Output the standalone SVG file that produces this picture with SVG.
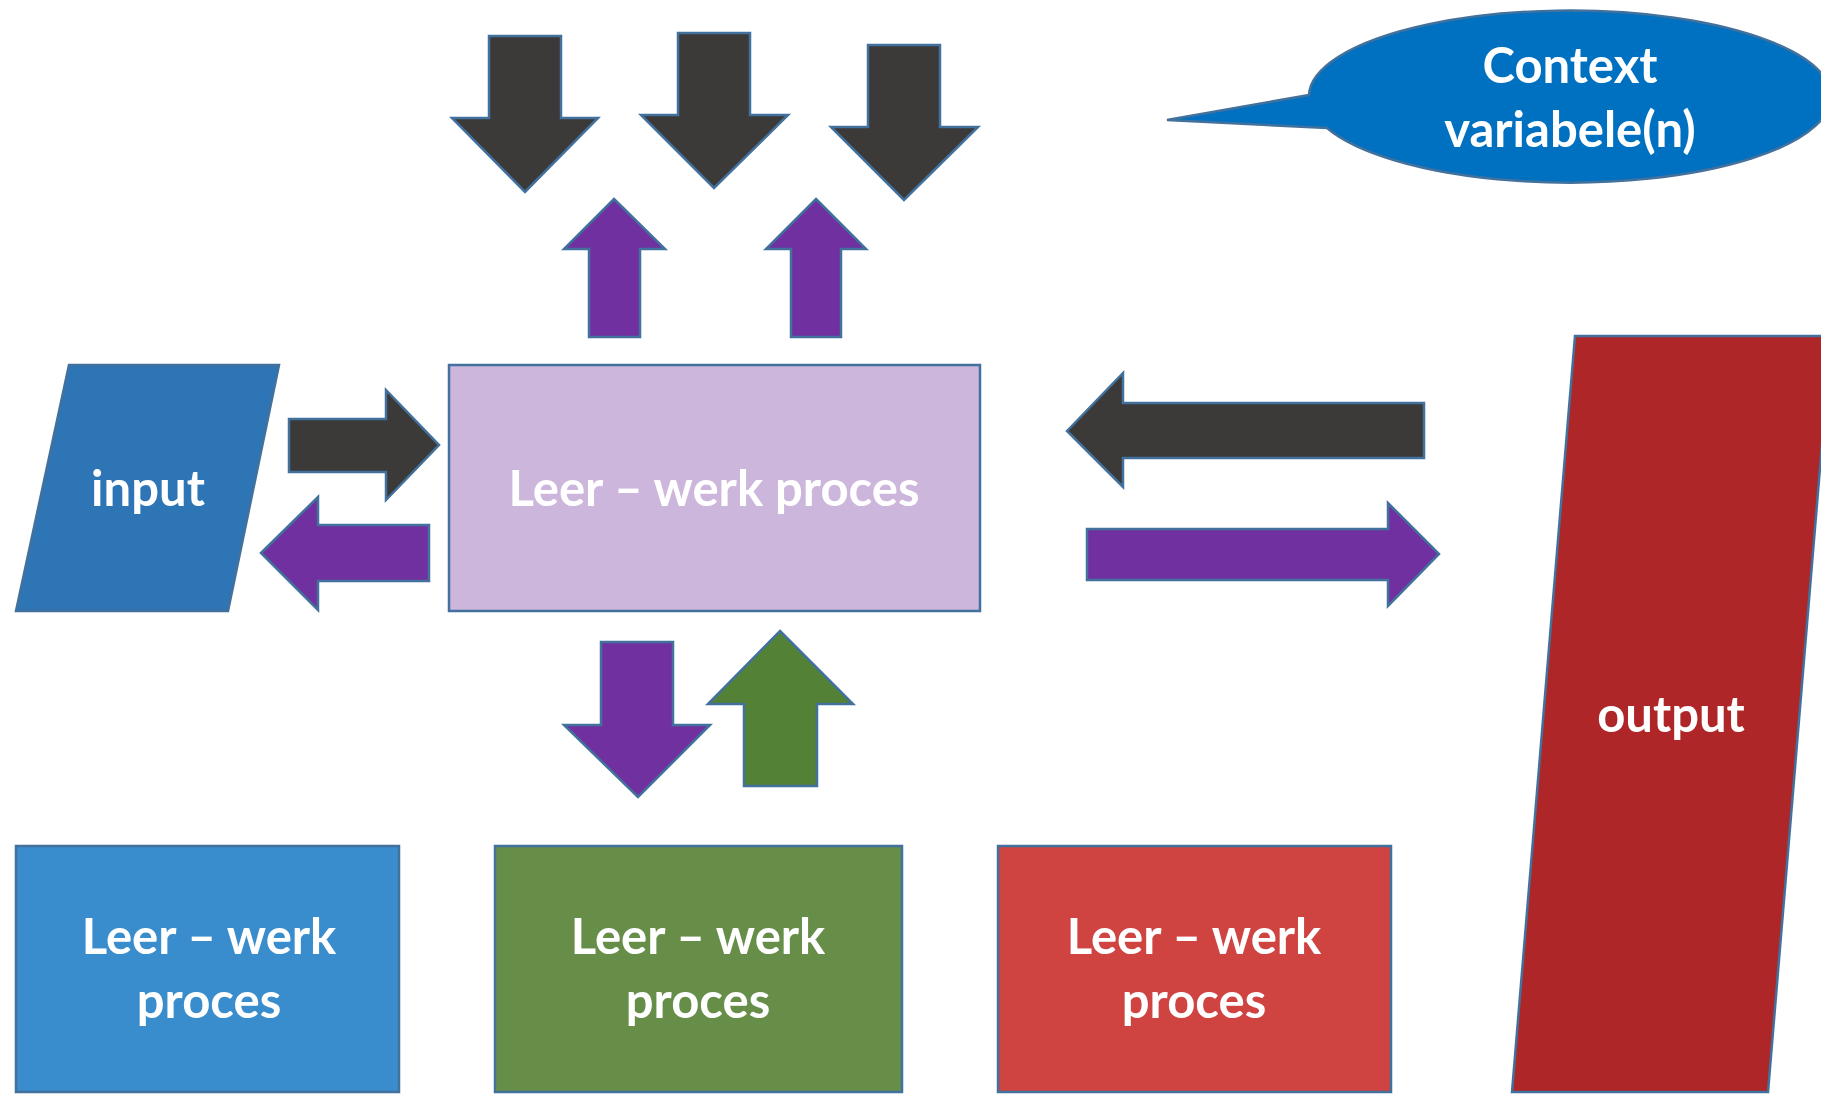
<svg xmlns="http://www.w3.org/2000/svg" width="1821" height="1094" viewBox="0 0 1821 1094">
<style>
.s{stroke:#41719C;stroke-width:2.5;stroke-linejoin:miter}
.dk{fill:#3B3A38}
.pu{fill:#7030A0}
.gr{fill:#538135}
.t{font-family:Lato,"Open Sans","Liberation Sans",sans-serif;font-weight:bold;font-size:49px;fill:#FFFFFF;text-anchor:middle}
</style>
<rect width="1821" height="1094" fill="#FFFFFF"/>
<g id="callout">
<path class="s" fill="#0070C0" d="M1309,95 L1167,120 L1327,128 A261,86 0 1 0 1309,95 Z"/>
<text class="t" x="1570" y="83">Context</text>
<text class="t" x="1570" y="147">variabele(n)</text>
</g>
<g id="input">
<polygon class="s" fill="#2E75B6" stroke="#1F4E79" points="69,365 279,365 228,611 16,611"/>
<text class="t" x="148" y="506">input</text>
</g>
<g id="center">
<rect class="s" fill="#CDB6DC" x="449" y="365" width="531" height="246"/>
<text class="t" x="714" y="506">Leer – werk proces</text>
</g>
<g id="output">
<polygon class="s" fill="#AE2628" points="1575,336 1831,336 1768,1092 1512,1092"/>
<text class="t" x="1671" y="732">output</text>
</g>
<g id="box-blue">
<rect class="s" fill="#3A8DCC" x="16" y="846" width="383" height="246"/>
<text class="t" x="209" y="954">Leer – werk</text>
<text class="t" x="209" y="1018">proces</text>
</g>
<g id="box-green">
<rect class="s" fill="#668E48" x="495" y="846" width="407" height="246"/>
<text class="t" x="698" y="954">Leer – werk</text>
<text class="t" x="698" y="1018">proces</text>
</g>
<g id="box-red">
<rect class="s" fill="#CF4341" x="998" y="846" width="393" height="246"/>
<text class="t" x="1194" y="954">Leer – werk</text>
<text class="t" x="1194" y="1018">proces</text>
</g>
<g id="connectors">
<polygon class="s dk" points="489,36 561,36 561,118 598,118 525,192 452,118 489,118"/>
<polygon class="s dk" points="678,33 750,33 750,115 788,115 714,188 641,115 678,115"/>
<polygon class="s dk" points="868,45 940,45 940,127 978,127 904,200 831,127 868,127"/>
<polygon class="s pu" points="614,199 665,249 640,249 640,337 589,337 589,249 564,249"/>
<polygon class="s pu" points="816,199 866,249 841,249 841,337 791,337 791,249 766,249"/>
<polygon class="s dk" points="289,419 386,419 386,390 439,445 386,500 386,472 289,472"/>
<polygon class="s pu" points="261,553 318,497 318,525 429,525 429,581 318,581 318,610"/>
<polygon class="s pu" points="601,642 673,642 673,725 710,725 638,797 564,725 601,725"/>
<polygon class="s gr" points="780,631 853,704 817,704 817,786 744,786 744,704 708,704"/>
<polygon class="s dk" points="1067,431 1123,373 1123,403 1424,403 1424,458 1123,458 1123,487"/>
<polygon class="s pu" points="1087,529 1388,529 1388,503 1439,554 1388,606 1388,580 1087,580"/>
</g>
</svg>
